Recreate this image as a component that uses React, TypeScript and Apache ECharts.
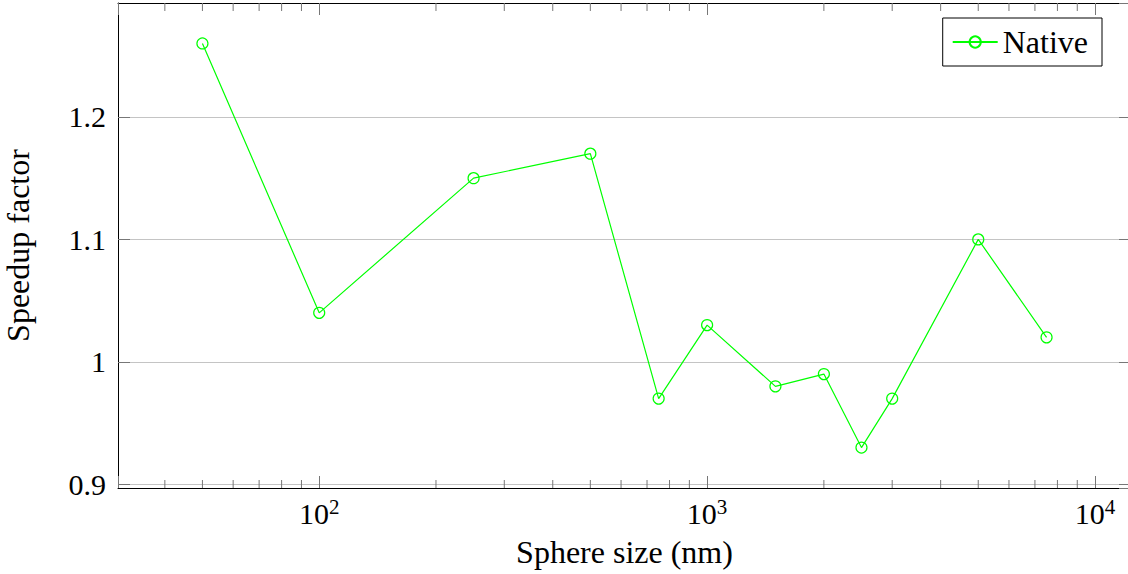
import React, { useEffect, useRef } from "react";
import * as echarts from "echarts";

const sphereSizes = [50, 100, 250, 500, 750, 1000, 1500, 2000, 2500, 3000, 5000, 7500];
const nativeSpeedup = [1.26, 1.04, 1.15, 1.17, 0.97, 1.03, 0.98, 0.99, 0.93, 0.97, 1.1, 1.02];
const minorTicksX = [40, 50, 60, 70, 80, 90, 200, 300, 400, 500, 600, 700, 800, 900, 2000, 3000, 4000, 5000, 6000, 7000, 8000, 9000];
const seriesName = "Native";
const xTitle = "Sphere size (nm)";
const yTitle = "Speedup factor";

const X_MIN = 30.29;
const X_MAX = 12381;
const Y_MIN = 0.897;
const Y_MAX = 1.293;

const FONT = "Liberation Serif";
const GREEN = "#00ff00";
const TICK = "#777";
const CHART_W = 1140;

export default function App() {
  const ref = useRef<HTMLDivElement>(null);
  useEffect(() => {
    if (!ref.current) return;
    const chart = echarts.init(ref.current, null, { renderer: "svg" });
    const xLabelFmt = (v: number) => {
      const l = Math.log10(v);
      const r = Math.round(l);
      if (Math.abs(l - r) < 1e-3) return `{b|10}{s|${r}}`;
      return "";
    };
    const yLabelFmt = (v: number) => {
      const r = Math.round(v * 10) / 10;
      if (Math.abs(v - r) < 1e-6) return String(r);
      return "";
    };
    chart.setOption({
      animation: false,
      backgroundColor: "#fff",
      textStyle: { fontFamily: FONT },
      grid: {
        left: 118,
        right: CHART_W - 1131,
        top: 3,
        bottom: 86,
        containLabel: false,
        outerBoundsMode: "none",
      },
      legend: {
        data: [seriesName],
        right: CHART_W - 1102,
        top: 18,
        borderColor: "#000",
        borderWidth: 1,
        borderRadius: 0,
        padding: [8, 14, 8, 9],
        itemWidth: 45,
        itemHeight: 14,
        textStyle: { fontFamily: FONT, fontSize: 32, color: "#000" },
      },
      xAxis: [
        {
          type: "log",
          logBase: 10,
          min: X_MIN,
          max: X_MAX,
          position: "bottom",
          z: 3,
          name: xTitle,
          nameLocation: "middle",
          nameGap: 48,
          nameTextStyle: { fontFamily: FONT, fontSize: 32, color: "#000" },
          axisLine: { show: true, lineStyle: { color: "#000", width: 1 } },
          axisTick: { show: true, inside: true, length: 12, lineStyle: { color: TICK } },
          minorTick: { show: false },
          splitLine: { show: false },
          axisLabel: {
            margin: 8,
            formatter: xLabelFmt,
            rich: {
              b: { fontFamily: FONT, fontSize: 30, color: "#000", lineHeight: 32, verticalAlign: "bottom" },
              s: { fontFamily: FONT, fontSize: 21, color: "#000", lineHeight: 32, verticalAlign: "top" },
            },
          },
        },
        {
          type: "log",
          logBase: 10,
          min: X_MIN,
          max: X_MAX,
          position: "top",
          z: 3,
          axisLine: { show: true, lineStyle: { color: "#000", width: 1 } },
          axisTick: { show: true, inside: true, length: 12, lineStyle: { color: TICK } },
          splitLine: { show: false },
          axisLabel: { show: false },
        },
      ],
      yAxis: [
        {
          type: "value",
          min: Y_MIN,
          max: Y_MAX,
          position: "left",
          z: 1,
          name: yTitle,
          nameLocation: "middle",
          nameGap: 84,
          nameTextStyle: { fontFamily: FONT, fontSize: 32, color: "#000" },
          axisLine: { show: true, lineStyle: { color: "#000", width: 1 } },
          axisTick: { show: true, inside: true, length: 12, lineStyle: { color: TICK } },
          splitLine: { show: true, showMinLine: false, showMaxLine: false, lineStyle: { color: "#c4c4c4", width: 1 } },
          axisLabel: {
            margin: 12,
            formatter: yLabelFmt,
            fontFamily: FONT,
            fontSize: 30,
            color: "#000",
          },
        },
        {
          type: "value",
          min: Y_MIN,
          max: Y_MAX,
          position: "right",
          z: 3,
          axisLine: { show: true, lineStyle: { color: "#000", width: 1 } },
          axisTick: { show: true, inside: true, length: 12, lineStyle: { color: TICK } },
          splitLine: { show: false },
          axisLabel: { show: false },
        },
      ],
      series: [
        {
          type: "custom",
          name: "minorTicks",
          xAxisIndex: 0,
          yAxisIndex: 0,
          silent: true,
          clip: false,
          z: 4,
          data: minorTicksX.map((v) => [v, 1]),
          renderItem: (params: any, api: any) => {
            const x = api.coord([api.value(0), 1])[0];
            const cs = params.coordSys;
            const style = { stroke: TICK, lineWidth: 1 };
            return {
              type: "group",
              children: [
                { type: "line", shape: { x1: x, y1: cs.y + cs.height, x2: x, y2: cs.y + cs.height - 8 }, style },
                { type: "line", shape: { x1: x, y1: cs.y, x2: x, y2: cs.y + 8 }, style },
              ],
            };
          },
        },
        {
          type: "line",
          name: seriesName,
          xAxisIndex: 0,
          yAxisIndex: 0,
          z: 5,
          data: sphereSizes.map((s, i) => [s, nativeSpeedup[i]]),
          symbol: "circle",
          symbolSize: 11,
          showAllSymbol: true,
          lineStyle: { color: GREEN, width: 1.2 },
          itemStyle: { color: "rgba(0,0,0,0)", borderColor: GREEN, borderWidth: 1.2 },
        },
      ],
    });
    return () => chart.dispose();
  }, []);
  return (
    <div style={{ position: "absolute", left: 0, top: 0, width: 1128, height: 574, overflow: "hidden", background: "#fff" }}>
      <div ref={ref} style={{ width: CHART_W, height: 574 }} />
    </div>
  );
}
